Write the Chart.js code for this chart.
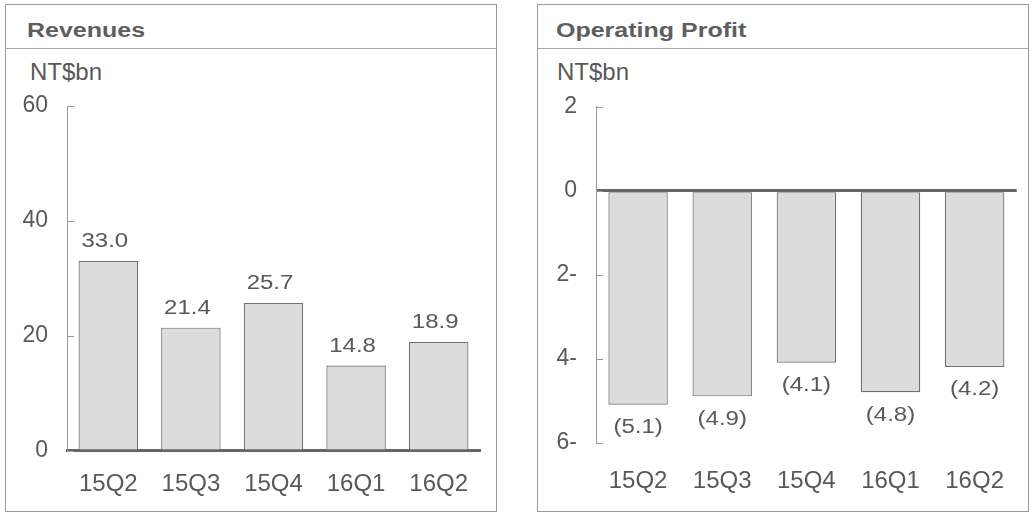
<!DOCTYPE html>
<html>
<head>
<meta charset="utf-8">
<script src="https://cdn.jsdelivr.net/npm/chart.js"></script>
<style>
    body { margin: 0; background: #fff; font-family: "Liberation Sans", Arial, sans-serif; }
    .panel { position: absolute; top: 4px; width: 492px; height: 508px; box-sizing: border-box; border: 1px solid #9a9a9a; }
    .sep   { position: absolute; left: 0; right: 0; top: 43px; border-top: 1px solid #a8a8a8; }
    .title { position: absolute; top: 15px; font-weight: bold; font-size: 20px; line-height: 20px; color: #5e5e5e;
             transform: scaleX(1.25); transform-origin: 0 0; white-space: nowrap; }
    .unit  { position: absolute; top: 55px; font-size: 24px; line-height: 24px; color: #595959; white-space: nowrap; }
    canvas { position: absolute; top: 0; }
</style>
</head>
<body>
<div class="panel" style="left:5px">
    <div class="sep"></div>
    <div class="title" style="left:21px">Revenues</div>
    <div class="unit" style="left:24px">NT$bn</div>
</div>
<div class="panel" style="left:537px">
    <div class="sep"></div>
    <div class="title" style="left:18px">Operating Profit</div>
    <div class="unit" style="left:19px">NT$bn</div>
</div>
<canvas id="revenue_graph" width="520" height="519" style="left:0px"></canvas>
<canvas id="profit_graph" width="515" height="519" style="left:520px"></canvas>

<script>
// 四半期ラベルと値 (NT$bn)
const quarters       = ["15Q2", "15Q3", "15Q4", "16Q1", "16Q2"];
const revenues       = [33.0, 21.4, 25.7, 14.8, 18.9];
const op_profit      = [-5.1, -4.9, -4.1, -4.8, -4.2];
const revenue_ticks  = [0, 60, 20];   // min, max, step
const profit_ticks   = [-6, 2, 2];

const FONT      = '"Liberation Sans", Arial, sans-serif';
const TEXT      = "#595959";
const AXIS      = "#9a9a9a";
const BASE      = "#666666";

// 目盛線は軸の内側(右側)に描く
const insideTicks = {
    id: "insideTicks",
    beforeDatasetsDraw(chart) {
        const y   = chart.scales.y;
        const ctx = chart.ctx;
        const x0  = chart.chartArea.left;
        ctx.save();
        ctx.strokeStyle = AXIS;
        ctx.lineWidth = 1;
        y.ticks.forEach(function (t, i) {
            const py = Math.round(y.getPixelForTick(i)) + 0.5;
            ctx.beginPath();
            ctx.moveTo(x0, py);
            ctx.lineTo(x0 + 7, py);
            ctx.stroke();
        });
        ctx.restore();
    }
};

// 棒の上(負の値なら下)に数値を書く
const valueLabels = {
    id: "valueLabels",
    afterDatasetsDraw(chart, args, opts) {
        const ctx  = chart.ctx;
        const meta = chart.getDatasetMeta(0);
        const data = chart.data.datasets[0].data;
        ctx.save();
        ctx.font = "20px " + FONT;
        ctx.fillStyle = TEXT;
        ctx.textAlign = "center";
        ctx.textBaseline = "middle";
        meta.data.forEach(function (bar, i) {
            const v  = data[i];
            const py = v >= 0 ? bar.y - 19.5 : bar.y + 23;
            ctx.save();
            ctx.translate(bar.x + opts.dx, py);
            ctx.scale(1.2, 1);
            ctx.fillText(opts.format(v), 0, 0);
            ctx.restore();
        });
        ctx.restore();
    }
};

function draw_bar(canvas, values, ticks, o) {
    const ctx = document.getElementById(canvas).getContext("2d");
    return new Chart(ctx, {
        type: "bar",
        data: {
            labels: quarters,
            datasets: [{
                data: values,
                backgroundColor: "#dcdcdc",
                borderColor: "#707070",
                borderWidth: 1.2,
                borderSkipped: false,
                categoryPercentage: 1,
                barPercentage: o.bar
            }]
        },
        options: {
            responsive: false,
            animation: false,
            layout: { padding: { top: o.top, right: o.right, bottom: 0, left: 0 } },
            plugins: {
                legend: { display: false },
                tooltip: { enabled: false },
                valueLabels: { dx: o.dx, format: o.format }
            },
            scales: {
                x: {
                    afterFit: function (s) { s.height = o.xh; },
                    grid: { display: false, drawTicks: false },
                    border: o.xborder,
                    ticks: { color: TEXT, font: { family: FONT, size: 24 }, padding: o.xpad, maxRotation: 0 }
                },
                y: {
                    min: ticks[0], max: ticks[1],
                    afterFit: function (s) { s.width = o.yw; },
                    grid: o.ygrid,
                    border: { display: true, color: AXIS, width: 1 },
                    ticks: { stepSize: ticks[2], color: TEXT, font: { family: FONT, size: 23 }, padding: 19, callback: o.tick }
                }
            }
        },
        plugins: [insideTicks, valueLabels]
    });
}

window.addEventListener("load", function () {
    draw_bar("revenue_graph", revenues, revenue_ticks, {
        bar: 0.72, top: 106, right: 40, xh: 68.5, xpad: 19, yw: 67, dx: -3.5,
        xborder: { display: true, color: BASE, width: 3 },
        ygrid: { display: false, drawTicks: false },
        format: function (v) { return v.toFixed(1); },
        tick: function (v) { return String(v); }
    });

    draw_bar("profit_graph", op_profit, profit_ticks, {
        bar: 0.706, top: 106.7, right: 18.3, xh: 76.5, xpad: 24, yw: 76, dx: 0,
        xborder: { display: false },
        ygrid: {
            display: true, drawOnChartArea: true, drawTicks: false,
            color: function (c) { return c.tick && c.tick.value === 0 ? BASE : "rgba(0,0,0,0)"; },
            lineWidth: function (c) { return c.tick && c.tick.value === 0 ? 3 : 0; }
        },
        format: function (v) { return "(" + Math.abs(v).toFixed(1) + ")"; },
        tick: function (v) { return v < 0 ? Math.abs(v) + "-" : String(v); }
    });
});
</script>
</body>
</html>
